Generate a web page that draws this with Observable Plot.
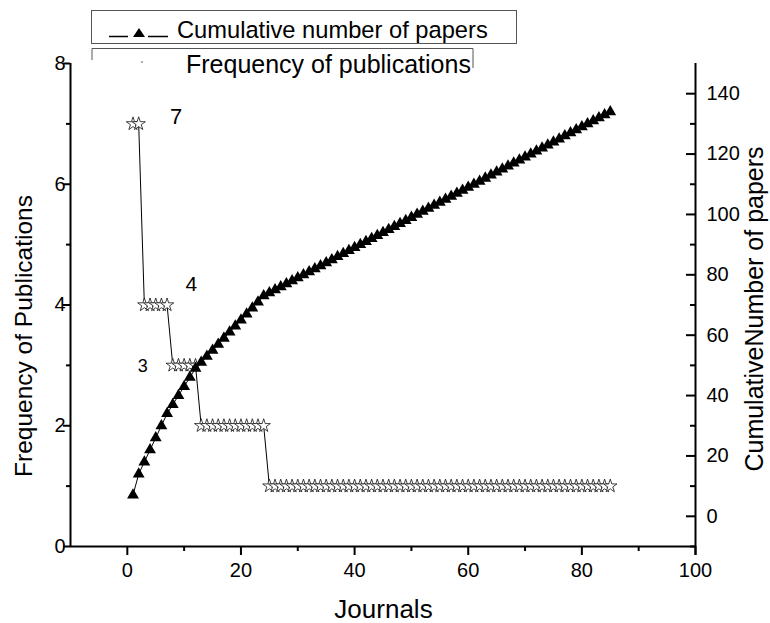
<!DOCTYPE html>
<html>
<head>
<meta charset="utf-8">
<script src="https://cdn.jsdelivr.net/npm/d3@7"></script>
<script src="https://cdn.jsdelivr.net/npm/@observablehq/plot@0.6"></script>
<style>
  html, body { margin: 0; padding: 0; background: white; }
  #wrap { position: relative; width: 770px; height: 623px; font-family: "Liberation Sans", Arial, sans-serif; }
  #legend { position: absolute; left: 0; top: 0; pointer-events: none; }
</style>
</head>
<body>
<div id="wrap"></div>
<script>
// ---- data ----
const journals = [1,2,3,4,5,6,7,8,9,10,11,12,13,14,15,16,17,18,19,20,21,22,23,24,25,26,27,28,29,30,
  31,32,33,34,35,36,37,38,39,40,41,42,43,44,45,46,47,48,49,50,51,52,53,54,55,56,57,58,59,60,
  61,62,63,64,65,66,67,68,69,70,71,72,73,74,75,76,77,78,79,80,81,82,83,84,85];
const frequency = [7,7,4,4,4,4,4,3,3,3,3,3,2,2,2,2,2,2,2,2,2,2,2,2,
  1,1,1,1,1,1,1,1,1,1,1,1,1,1,1,1,1,1,1,1,1,1,1,1,1,1,1,1,1,1,1,1,1,1,1,1,
  1,1,1,1,1,1,1,1,1,1,1,1,1,1,1,1,1,1,1,1,1,1,1,1,1];
const cumulative = [7,14,18,22,26,30,34,37,40,43,46,49,51,53,55,57,59,61,63,65,67,69,71,73,
  74,75,76,77,78,79,80,81,82,83,84,85,86,87,88,89,90,91,92,93,94,95,96,97,98,99,100,101,102,103,104,105,106,107,108,109,
  110,111,112,113,114,115,116,117,118,119,120,121,122,123,124,125,126,127,128,129,130,131,132,133,134];
const xTicks = [0,20,40,60,80,100];
const xMinorTicks = [10,30,50,70,90];
const yLeftTicks = [0,2,4,6,8];
const yLeftMinorTicks = [1,3,5,7];
const yRightTicks = [0,20,40,60,80,100,120,140];
const yRightMinorTicks = [-10,10,30,50,70,90,110,130];
const labels = [
  {journal: 1, value: 7, text: "7"},
  {journal: 3, value: 4, text: "4"},
  {journal: 8, value: 3, text: "3"}
];

// right axis [-10,150] maps onto left axis [0,8]
const toLeft = c => (c + 10) / 20;

const freqData = journals.map((j, i) => ({journal: j, value: frequency[i]}));
const cumData = journals.map((j, i) => ({journal: j, value: toLeft(cumulative[i])}));

const font = "Liberation Sans, Arial, sans-serif";
const W = 770, H = 623, ML = 70, MR = 75, MT = 63, MB = 77;
const X0 = -10, X1 = 100, Y0 = 0, Y1 = 8;
const pxX = (W - ML - MR) / (X1 - X0), pxY = (H - MT - MB) / (Y1 - Y0);   // pixels per data unit

const chart = Plot.plot({
  width: W, height: H,
  marginLeft: 0, marginRight: 0, marginTop: 0, marginBottom: 0,
  x: {domain: [X0 - ML / pxX, X1 + MR / pxX], axis: null},
  y: {domain: [Y0 - MB / pxY, Y1 + MT / pxY], axis: null},
  style: {fontFamily: font, background: "white", color: "black"},
  marks: [
    // bottom axis: outward ticks + labels
    Plot.ruleX(xTicks, {x: d => d, y1: Y0, y2: Y0 - 9 / pxY, stroke: "black", strokeWidth: 2}),
    Plot.ruleX(xMinorTicks, {x: d => d, y1: Y0, y2: Y0 - 5 / pxY, stroke: "black", strokeWidth: 2}),
    Plot.text(xTicks, {x: d => d, y: Y0, dy: 16, lineAnchor: "top", textAnchor: "middle", fontSize: 20, fill: "black", text: d => String(d)}),
    // left axis: outward ticks + labels
    Plot.ruleY(yLeftTicks, {y: d => d, x1: X0, x2: X0 - 7 / pxX, stroke: "black", strokeWidth: 2}),
    Plot.ruleY(yLeftMinorTicks, {y: d => d, x1: X0, x2: X0 - 4 / pxX, stroke: "black", strokeWidth: 2}),
    Plot.text(yLeftTicks, {x: X0, y: d => d, dx: -5, textAnchor: "end", lineAnchor: "middle", fontSize: 20, fill: "black", text: d => String(d)}),
    // right axis: inward ticks + labels
    Plot.ruleY(yRightTicks, {y: d => toLeft(d), x1: X1, x2: X1 - 9 / pxX, stroke: "black", strokeWidth: 2}),
    Plot.ruleY(yRightMinorTicks, {y: d => toLeft(d), x1: X1, x2: X1 - 5 / pxX, stroke: "black", strokeWidth: 2}),
    Plot.text(yRightTicks, {x: X1, y: d => toLeft(d), dx: 11, textAnchor: "start", lineAnchor: "middle", fontSize: 20, fill: "black", text: d => String(d)}),
    // axes lines
    Plot.ruleX([X0], {y1: Y0, y2: Y1, stroke: "black", strokeWidth: 2}),
    Plot.ruleX([X1], {y1: Y0 - 9 / pxY, y2: Y1, stroke: "black", strokeWidth: 2}),
    Plot.ruleY([Y0], {x1: X0, x2: X1, stroke: "black", strokeWidth: 2}),
    // axis titles
    Plot.text(["Frequency of Publications"], {frameAnchor: "left", rotate: -90, dx: 31, dy: 24, lineAnchor: "bottom", textAnchor: "middle", fontSize: 24.5, fill: "black"}),
    Plot.text(["CumulativeNumber of papers"], {frameAnchor: "right", rotate: -90, dx: -8, dy: -3, lineAnchor: "bottom", textAnchor: "middle", fontSize: 25, fill: "black"}),
    Plot.text(["Journals"], {frameAnchor: "bottom", dx: -2, dy: -6, lineAnchor: "bottom", textAnchor: "middle", fontSize: 26, fill: "black"}),
    // frequency series
    Plot.line(freqData, {x: "journal", y: "value", stroke: "black", strokeWidth: 1}),
    Plot.dot(freqData, {x: "journal", y: "value", symbol: "star", r: 4.2, fill: "white", stroke: "#111", strokeWidth: 0.8}),
    // cumulative series
    Plot.line(cumData, {x: "journal", y: "value", stroke: "black", strokeWidth: 1}),
    Plot.dot(cumData, {x: "journal", y: "value", symbol: "triangle", r: 4.4, fill: "black", stroke: "none"}),
    // annotations
    Plot.text([labels[0]], {x: "journal", y: "value", text: "text", dx: 43, dy: 0, lineAnchor: "bottom", fontSize: 22, fill: "black"}),
    Plot.text([labels[1]], {x: "journal", y: "value", text: "text", dx: 47, dy: -14, lineAnchor: "bottom", fontSize: 21, fill: "black"}),
    Plot.text([labels[2]], {x: "journal", y: "value", text: "text", dx: -30, dy: 7, lineAnchor: "bottom", fontSize: 18, fill: "black"})
  ]
});

const wrap = document.getElementById("wrap");
wrap.appendChild(chart);

// legend overlay
const ns = "http://www.w3.org/2000/svg";
const leg = document.createElementNS(ns, "svg");
leg.setAttribute("id", "legend");
leg.setAttribute("width", W);
leg.setAttribute("height", 90);
leg.innerHTML = `
  <rect x="91.5" y="10.5" width="425" height="33" fill="white" stroke="#555" stroke-width="1"/>
  <line x1="109" x2="128" y1="36.5" y2="36.5" stroke="black" stroke-width="1.5"/>
  <line x1="148" x2="168" y1="36.5" y2="36.5" stroke="black" stroke-width="1.5"/>
  <path d="M133,37 L145,37 L139,28 Z" fill="black"/>
  <text x="177" y="38" font-family="${font}" font-size="23.7" fill="black">Cumulative number of papers</text>
  <path d="M92,60 V48.5 H473 V68" fill="none" stroke="#555" stroke-width="1"/>
  <circle cx="142" cy="62" r="0.8" fill="#444"/>
  <text x="186" y="73" font-family="${font}" font-size="25" fill="black">Frequency of publications</text>
`;
wrap.appendChild(leg);
</script>
</body>
</html>
